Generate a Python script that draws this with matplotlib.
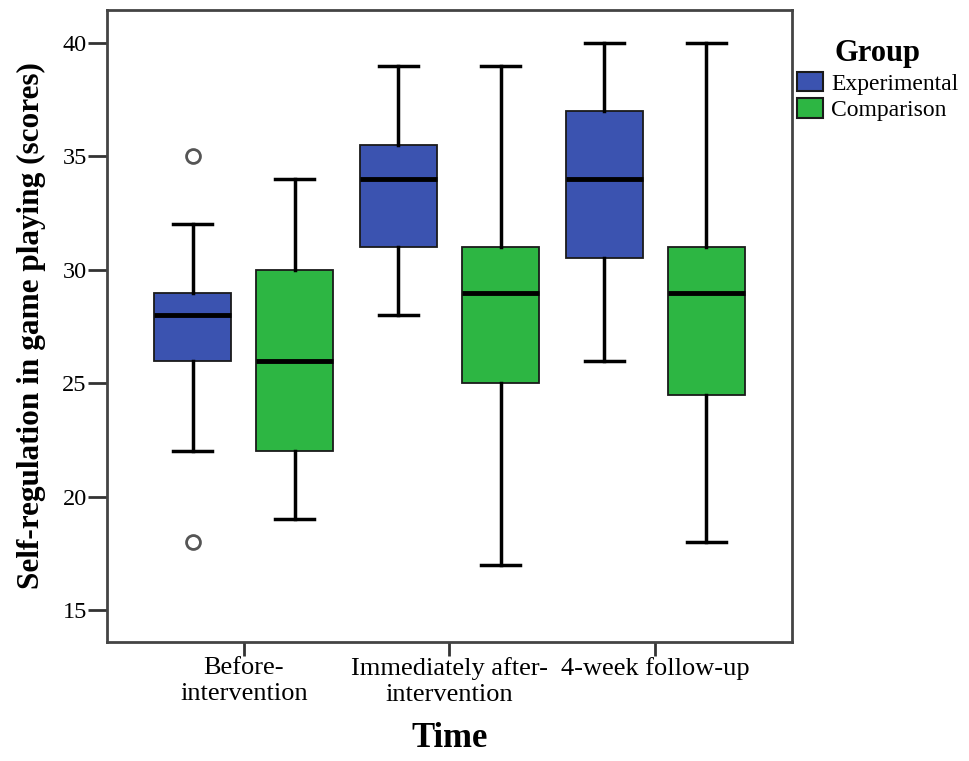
import matplotlib
matplotlib.use("Agg")
import matplotlib.pyplot as plt
from matplotlib.patches import Patch

# Box summary values
times = ["Before-\nintervention", "Immediately after-\nintervention", "4-week follow-up"]
groups = ["Experimental", "Comparison"]
colors = ["#3B53B0", "#2DB643"]

exp_low = [22, 28, 26]
exp_q1 = [26, 31, 30.5]
exp_med = [28, 34, 34]
exp_q3 = [29, 35.5, 37]
exp_high = [32, 39, 40]
exp_out = [[35, 18], [], []]

cmp_low = [19, 17, 18]
cmp_q1 = [22, 25, 24.5]
cmp_med = [26, 29, 29]
cmp_q3 = [30, 31, 31]
cmp_high = [34, 39, 40]
cmp_out = [[], [], []]

plt.rcParams['font.family'] = ['Liberation Serif', 'DejaVu Serif']

fig = plt.figure(figsize=(9.7, 7.61), dpi=100)
ax = fig.add_axes([0.1103, 0.1564, 0.7062, 0.8305])

series = [
    (exp_low, exp_q1, exp_med, exp_q3, exp_high, exp_out),
    (cmp_low, cmp_q1, cmp_med, cmp_q3, cmp_high, cmp_out),
]
offsets = [-0.248, 0.248]

for k, (lo, q1, med, q3, hi, out) in enumerate(series):
    stats = []
    for i in range(len(times)):
        stats.append(dict(whislo=lo[i], q1=q1[i], med=med[i], q3=q3[i],
                          whishi=hi[i], fliers=out[i]))
    pos = [i + offsets[k] for i in range(len(times))]
    ax.bxp(stats, positions=pos, widths=0.374, capwidths=0.19,
           patch_artist=True, showfliers=True,
           boxprops=dict(facecolor=colors[k], edgecolor='#1a1a1a', linewidth=1.3),
           medianprops=dict(color='black', linewidth=3.5),
           whiskerprops=dict(color='black', linewidth=2.5),
           capprops=dict(color='black', linewidth=2.5),
           flierprops=dict(marker='o', markerfacecolor='white',
                           markeredgecolor='#555555', markersize=10,
                           markeredgewidth=2))

ax.set_xlim(-0.665, 2.665)
ax.set_ylim(13.6, 41.45)
ax.set_xticks(range(len(times)))
ax.set_xticklabels(times, fontsize=19, linespacing=1.2)
ax.set_yticks([15, 20, 25, 30, 35, 40])
ax.tick_params(axis='y', labelsize=17.5, length=13.5, width=2, color='#333333', pad=1)
ax.tick_params(axis='x', length=10, width=2, color='#333333', pad=1)

for sp in ax.spines.values():
    sp.set_linewidth(2)
    sp.set_color('#444444')

ax.set_xlabel("Time", fontsize=25, fontweight='bold', labelpad=12)
ax.set_ylabel("Self-regulation in game playing (scores)", fontsize=22.5,
              fontweight='bold', labelpad=12)

handles = [Patch(facecolor=c, edgecolor='#1a1a1a', linewidth=1.5) for c in colors]
leg = ax.legend(handles, groups, title="Group", loc='upper left',
                bbox_to_anchor=(1.0, 0.961), frameon=False, fontsize=17,
                handlelength=1.1, handleheight=0.9, handletextpad=0.35,
                borderaxespad=0.1, labelspacing=0.15, borderpad=0.1)
leg.get_title().set_fontsize(22)
leg.get_title().set_fontweight('bold')

fig.savefig("out.png", dpi=100)
